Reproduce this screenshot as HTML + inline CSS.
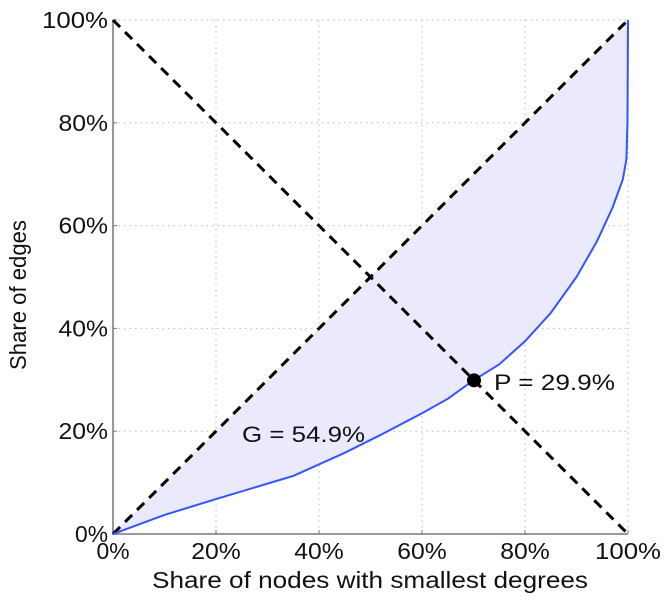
<!DOCTYPE html>
<html><head><meta charset="utf-8"><style>
body{margin:0;background:#fff;}
svg{display:block;font-family:"Liberation Sans",sans-serif;}
</style></head><body>
<svg id="c" width="667" height="600"></svg>
<script>
const xs=[0,10,20,30,35,45,52,60,65,70,75,80,85,90,94,97,99,99.7,99.9,100];
const ys=[0,3.7,6.8,9.8,11.3,15.8,19.3,23.5,26.3,29.9,33,37.5,43,50,57,63.5,69,73,80,100];
const ticks=[0,20,40,60,80,100];
const tickLabels=["0%","20%","40%","60%","80%","100%"];
const pointX=70.1, pointY=29.9;
const giniLabel="G = 54.9%", pLabel="P = 29.9%";
const L=113,R=628,T=20,B=534;
const sx=v=>L+(R-L)*v/100, sy=v=>B-(B-T)*v/100;
const svg=document.getElementById('c');
const NS='http://www.w3.org/2000/svg';
function mk(t,a,p){const e=document.createElementNS(NS,t);for(const k in a)e.setAttribute(k,a[k]);(p||svg).appendChild(e);return e;}
function tw(label){return label.length*16.5;}
ticks.forEach((t,i)=>{
 if(t>0){const g=mk('line',{x1:sx(t),x2:sx(t),y1:T,y2:B,stroke:'#bbb','stroke-dasharray':'1.5,4'});
 
 
 const h=mk('line',{x1:L,x2:R,y1:sy(t),y2:sy(t),stroke:'#bbb','stroke-dasharray':'1.5,4'});
 
 }
});
let pts=xs.map((x,i)=>sx(x)+','+sy(ys[i])).join(' ');
const area=mk('polygon',{points:pts,fill:'#ebe9fc'});


const ax=mk('path',{d:`M${L},${T}V${B}H${R}`,stroke:'#999',fill:'none','stroke-width':2});


ticks.forEach((t,i)=>{
 mk('line',{x1:sx(t),x2:sx(t),y1:B,y2:B-4,stroke:'#777'});
 mk('line',{x1:L,x2:L+4,y1:sy(t),y2:sy(t),stroke:'#777'});
 const w=tw(tickLabels[i]);
 const xl=mk('text',{x:sx(t),y:B+25,'text-anchor':'middle','font-size':23,fill:'#111',textLength:w,lengthAdjust:'spacingAndGlyphs'});xl.textContent=tickLabels[i];
 
 
 const yl=mk('text',{x:L-5,y:sy(t)+8,'text-anchor':'end','font-size':23,fill:'#111',textLength:w,lengthAdjust:'spacingAndGlyphs'});yl.textContent=tickLabels[i];
 
 
});
const d1=mk('line',{x1:sx(0),y1:sy(0),x2:sx(100),y2:sy(100),stroke:'#000','stroke-width':3,'stroke-dasharray':'10,7'});


const d2=mk('line',{x1:sx(0),y1:sy(100),x2:sx(100),y2:sy(0),stroke:'#000','stroke-width':3,'stroke-dasharray':'10,7'});


const cur=mk('polyline',{points:pts,fill:'none',stroke:'#3355ff','stroke-width':2});


const dot=mk('circle',{cx:sx(pointX),cy:sy(pointY),r:7,fill:'#000'});


const pl=mk('text',{x:494,y:390,'font-size':22,fill:'#111',textLength:121,lengthAdjust:'spacingAndGlyphs'});pl.textContent=pLabel;


const gl=mk('text',{x:242,y:442,'font-size':22,fill:'#111',textLength:123,lengthAdjust:'spacingAndGlyphs'});gl.textContent=giniLabel;


const xt=mk('text',{x:152,y:588,'font-size':23,fill:'#111',textLength:436,lengthAdjust:'spacingAndGlyphs'});xt.textContent='Share of nodes with smallest degrees';


const yt=mk('text',{x:0,y:0,'font-size':23,fill:'#111',textLength:150,lengthAdjust:'spacingAndGlyphs',transform:'translate(26,370) rotate(-90)'});yt.textContent='Share of edges';


</script>
</body></html>
